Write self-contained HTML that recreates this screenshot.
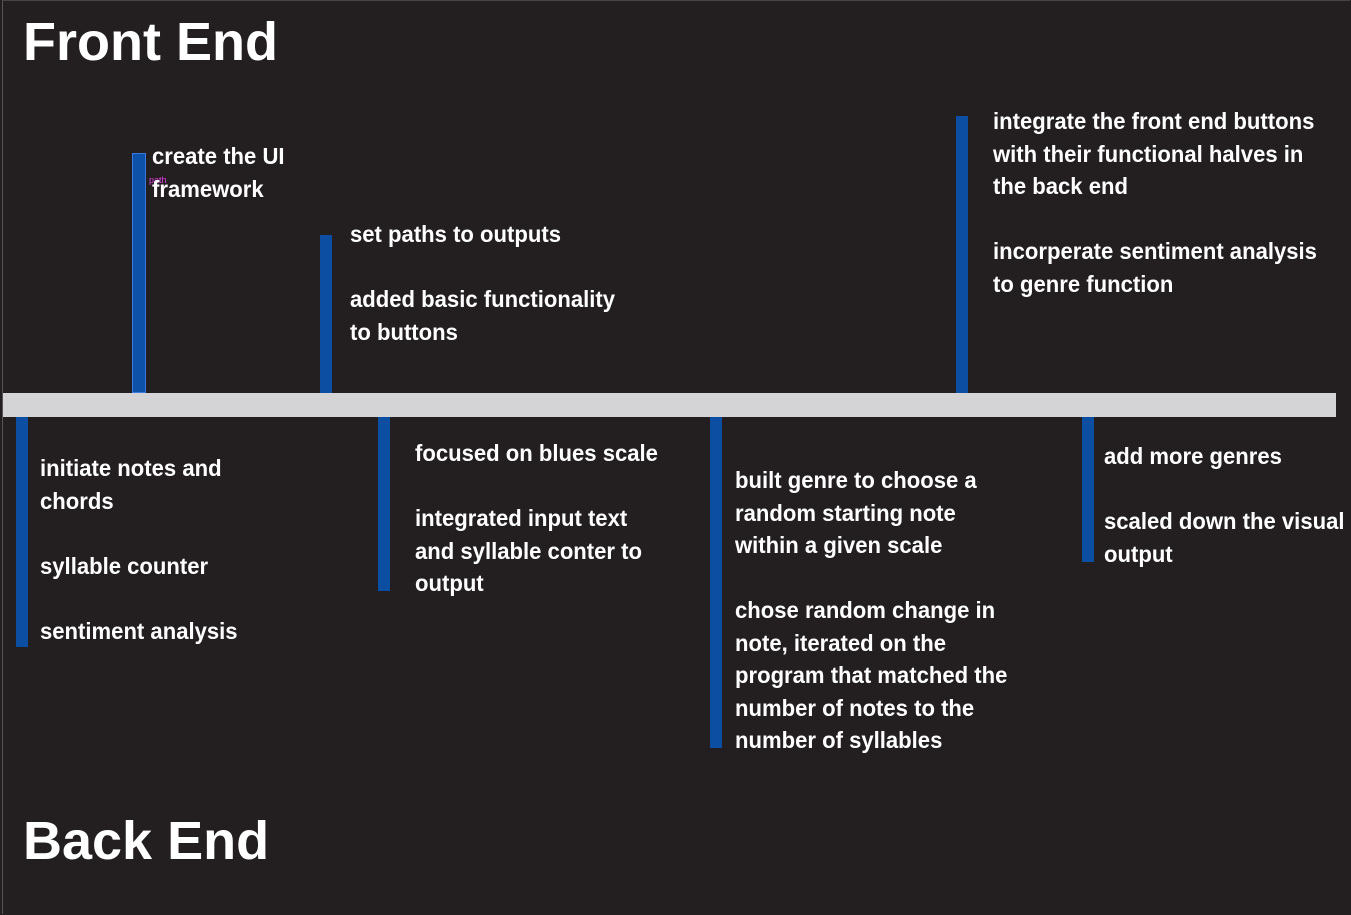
<!DOCTYPE html>
<html><head><style>
html,body{margin:0;padding:0;}
body{width:1351px;height:915px;background:#231f20;position:relative;overflow:hidden;font-family:"Liberation Sans",Arial,sans-serif;}
.frame{position:absolute;left:2px;top:0;width:1348px;height:914px;border-left:1px solid #555;border-top:1px solid #444;box-sizing:border-box;}
.h{position:absolute;color:#fff;font-weight:bold;font-size:54px;line-height:60px;left:23px;}
.hb{position:absolute;left:3px;top:393px;width:1333px;height:24px;background:#d4d4d6;}
.b{position:absolute;background:#0b4ea2;width:12px;}
.t{position:absolute;color:#fff;font-weight:bold;font-size:23px;line-height:32.5px;white-space:pre;transform:scaleX(0.96);transform-origin:0 0;}
</style></head><body>
<div class="frame"></div>
<div class="h" style="top:12px">Front End</div>
<div class="h" style="top:811px">Back End</div>
<div class="b" style="left:132px;top:153px;width:14px;height:240px;background:#0d52a8;box-shadow:inset 0 0 0 1px #3a7ae0"></div>
<div class="b" style="left:320px;top:235px;height:158px"></div>
<div class="b" style="left:956px;top:116px;height:277px"></div>
<div class="hb"></div>
<div class="b" style="left:16px;top:417px;height:230px"></div>
<div class="b" style="left:378px;top:417px;height:174px"></div>
<div class="b" style="left:710px;top:417px;height:331px"></div>
<div class="b" style="left:1082px;top:417px;height:145px"></div>
<div style="position:absolute;left:149px;top:175px;color:#e040e0;font-size:9px">path</div>
<div class="t" style="left:152px;top:140px">create the UI
framework</div>
<div class="t" style="left:350px;top:218px">set paths to outputs

added basic functionality
to buttons</div>
<div class="t" style="left:993px;top:105px">integrate the front end buttons
with their functional halves in
the back end

incorperate sentiment analysis
to genre function</div>
<div class="t" style="left:40px;top:452px">initiate notes and
chords

syllable counter

sentiment analysis</div>
<div class="t" style="left:415px;top:437px">focused on blues scale

integrated input text
and syllable conter to
output</div>
<div class="t" style="left:735px;top:464px">built genre to choose a
random starting note
within a given scale

chose random change in
note, iterated on the
program that matched the
number of notes to the
number of syllables</div>
<div class="t" style="left:1104px;top:440px">add more genres

scaled down the visual
output</div>
</body></html>
